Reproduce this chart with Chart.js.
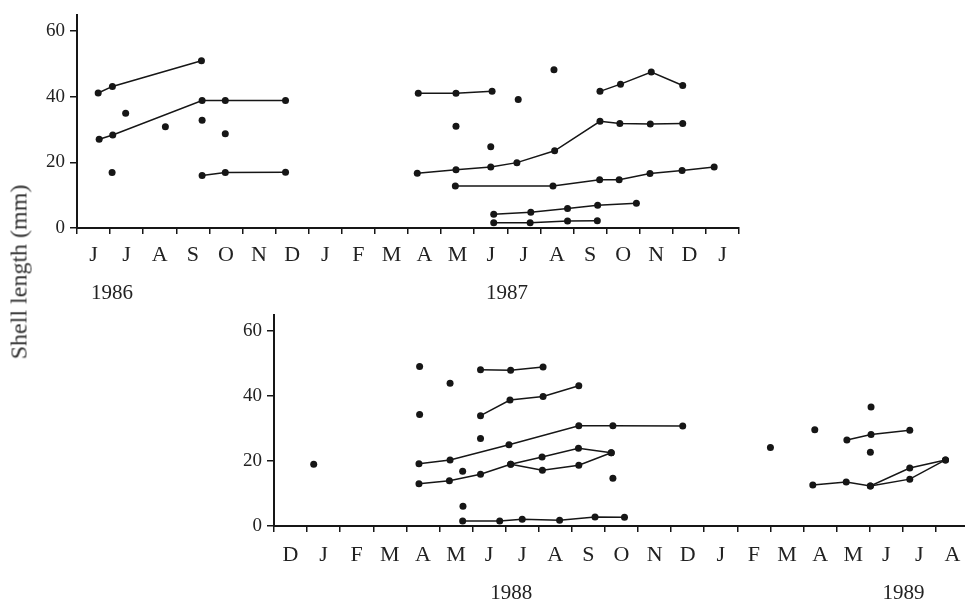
<!DOCTYPE html>
<html>
<head>
<meta charset="utf-8">
<script src="https://cdn.jsdelivr.net/npm/chart.js@4/dist/chart.umd.min.js"></script>
<style>
  html, body { margin: 0; padding: 0; background: #fff; overflow: hidden; width: 965px; height: 602px; }
  canvas { position: absolute; left: 0; }
  #topChart { top: 0; }
  #bottomChart { top: 300px; }
  #yTitle {
    position: absolute; left: 19px; top: 272px;
    transform: translate(-50%, -50%) rotate(-90deg);
    font: 24px "Liberation Serif", "Times New Roman", serif; color: #333; white-space: nowrap;
  }
</style>
</head>
<body>
<canvas id="topChart" width="965" height="305"></canvas>
<canvas id="bottomChart" width="975" height="302"></canvas>
<div id="yTitle">Shell length (mm)</div>
<script>
// month letters along each time axis
const topMonths = ['J','J','A','S','O','N','D','J','F','M','A','M','J','J','A','S','O','N','D','J'];
const bottomMonths = ['D','J','F','M','A','M','J','J','A','S','O','N','D','J','F','M','A','M','J','J','A'];
const topYears = ['1986', '1987'];
const topYearAt = [1.06, 12.99];
const bottomYears = ['1988', '1989'];
const bottomYearAt = [7.17, 19.02];

// top panel: [months since 1 June 1986, shell length mm]
const topA = [[0.64,41.1],[1.07,43.1],[3.76,50.9]];
const topB = [[0.67,27.0],[1.08,28.3],[3.78,38.8],[4.48,38.8],[6.30,38.8]];
const topC = [[3.78,16.0],[4.48,16.9],[6.30,17.0]];
const topD = [[10.31,41.0],[11.45,41.0],[12.54,41.6]];
const topE = [[15.80,41.6],[16.42,43.8],[17.35,47.5],[18.30,43.4]];
const topF = [[10.28,16.7],[11.45,17.7],[12.50,18.6],[13.29,19.9],[14.43,23.5],[15.80,32.5],[16.40,31.8],[17.32,31.7],[18.30,31.8]];
const topG = [[11.43,12.8],[14.38,12.8],[15.79,14.7],[16.38,14.7],[17.31,16.6],[18.28,17.5],[19.25,18.6]];
const topH = [[12.59,4.2],[13.71,4.8],[14.82,5.9],[15.73,6.9],[16.90,7.5]];
const topI = [[12.59,1.6],[13.69,1.6],[14.82,2.1],[15.72,2.2]];
const topSingles = [[1.06,16.9],[1.47,34.9],[2.67,30.8],[3.78,32.8],[4.48,28.7],[11.45,31.0],[12.50,24.7],[13.33,39.1],[14.41,48.2]];

// bottom panel: [months since 1 Dec 1987, shell length mm]
const botJ = [[6.24,48.0],[7.15,47.9],[8.13,48.9]];
const botK = [[6.24,33.9],[7.13,38.7],[8.13,39.8],[9.21,43.1]];
const botL = [[4.38,19.1],[5.32,20.3],[7.10,25.0],[9.21,30.8],[10.24,30.8],[12.35,30.7]];
const botM = [[4.38,13.0],[5.30,13.9],[6.24,15.9],[7.15,19.0],[8.10,21.2],[9.20,23.9],[10.19,22.5]];
const botM2 = [[7.15,19.0],[8.11,17.1],[9.21,18.7],[10.19,22.5]];
const botN = [[5.70,1.5],[6.82,1.5],[7.50,2.1],[8.63,1.8],[9.70,2.8],[10.59,2.7]];
const botO = [[17.31,26.4],[18.04,28.1],[19.21,29.4]];
const botP = [[16.28,12.6],[17.29,13.5],[18.02,12.3],[19.21,17.8],[20.29,20.3]];
const botP2 = [[18.02,12.3],[19.21,14.4],[20.29,20.3]];
const botSingles = [[1.20,19.0],[4.40,49.0],[4.40,34.3],[5.32,43.9],[5.70,16.8],[5.71,6.1],[6.24,26.9],[10.24,14.7],[15.0,24.1],[16.34,29.6],[18.04,36.6],[18.02,22.7]];

const INK = '#161616';
const SERIF = '"Liberation Serif", "Times New Roman", serif';

function series(points, joined) {
    return {
        data: points.map(p => ({ x: p[0], y: p[1] })),
        showLine: joined,
        borderColor: INK,
        borderWidth: 1.5,
        backgroundColor: INK,
        pointRadius: 3.5,
        pointBorderWidth: 0,
        pointBackgroundColor: INK
    };
}

// month letters sit between the tick marks, years below them
const monthLabels = {
    id: 'monthLabels',
    afterDraw(chart, args, opts) {
        const xs = chart.scales.x;
        const area = chart.chartArea;
        const ctx = chart.ctx;
        ctx.save();
        ctx.fillStyle = '#222';
        ctx.textAlign = 'center';
        ctx.textBaseline = 'alphabetic';
        ctx.font = '22px ' + SERIF;
        opts.months.forEach((m, i) => {
            ctx.fillText(m, xs.getPixelForValue(i + 0.5), area.bottom + opts.monthDy);
        });
        ctx.font = '21px ' + SERIF;
        opts.years.forEach((y, i) => {
            ctx.fillText(y, xs.getPixelForValue(opts.yearAt[i]), area.bottom + opts.yearDy);
        });
        ctx.restore();
    }
};

function makeChart(id, datasets, nMonths, axisWidth, padding, opts) {
    return new Chart(document.getElementById(id), {
        type: 'scatter',
        data: { datasets: datasets },
        options: {
            responsive: false,
            animation: false,
            layout: { padding: padding },
            plugins: { legend: { display: false }, tooltip: { enabled: false }, monthLabels: opts },
            scales: {
                x: {
                    type: 'linear',
                    min: 0,
                    max: nMonths,
                    afterBuildTicks: s => { s.ticks = []; for (let i = 0; i <= nMonths; i++) s.ticks.push({ value: i }); },
                    afterFit: s => { s.height = 10; },
                    ticks: { display: false },
                    grid: { drawOnChartArea: false, drawTicks: true, tickLength: 6, color: INK, lineWidth: 1.5 },
                    border: { display: true, color: INK, width: 2 }
                },
                y: {
                    min: 0,
                    max: 65,
                    afterFit: s => { s.width = axisWidth; },
                    ticks: { stepSize: 20, includeBounds: false, padding: 5, color: '#222', font: { family: SERIF, size: 19, lineHeight: 1 } },
                    grid: { drawOnChartArea: false, drawTicks: true, tickLength: 7, color: INK, lineWidth: 1.5 },
                    border: { display: true, color: INK, width: 2 }
                }
            }
        },
        plugins: [monthLabels]
    });
}

makeChart('topChart', [
    series(topA, true), series(topB, true), series(topC, true), series(topD, true),
    series(topE, true), series(topF, true), series(topG, true), series(topH, true),
    series(topI, true), series(topSingles, false)
], topMonths.length, 77, { left: 0, right: 226, top: 12, bottom: 67 },
   { months: topMonths, years: topYears, yearAt: topYearAt, monthDy: 33, yearDy: 71 });

makeChart('bottomChart', [
    series(botJ, true), series(botK, true), series(botL, true), series(botM, true),
    series(botM2, true), series(botN, true), series(botO, true), series(botP, true),
    series(botP2, true), series(botSingles, false)
], bottomMonths.length, 274, { left: 0, right: 6, top: 11, bottom: 66 },
   { months: bottomMonths, years: bottomYears, yearAt: bottomYearAt, monthDy: 35, yearDy: 73 });
</script>
</body>
</html>
